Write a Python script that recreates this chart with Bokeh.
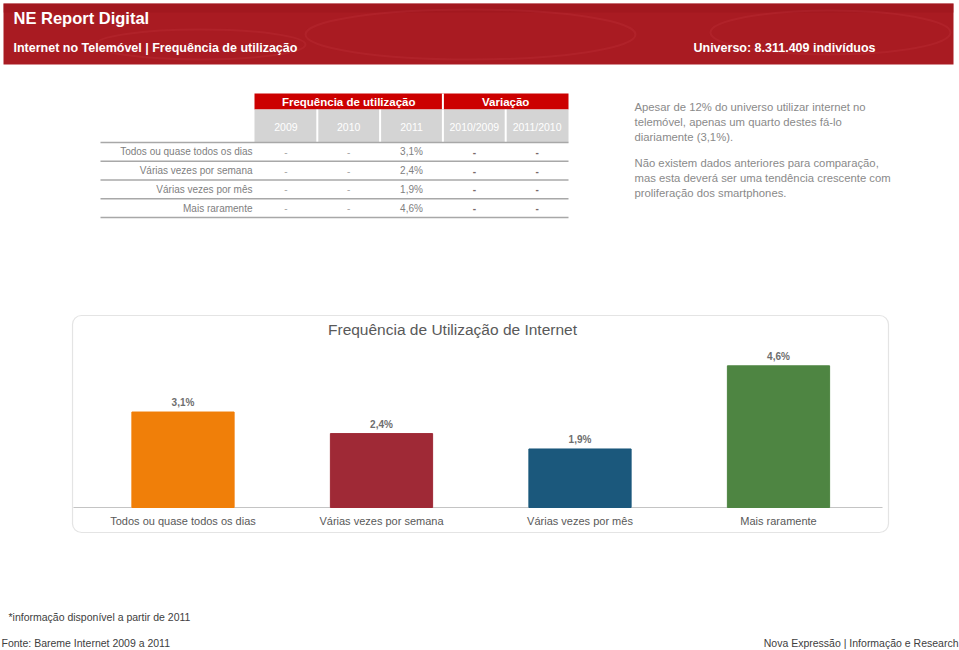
from bokeh.plotting import figure
from bokeh.models import Range1d, BoxAnnotation
from bokeh.core.properties import value
from bokeh.embed import file_html
from bokeh.resources import INLINE

# ---------------- data ----------------
categories = ["Todos ou quase todos os dias", "Várias vezes por semana",
              "Várias vezes por mês", "Mais raramente"]
values_2011 = [3.1, 2.4, 1.9, 4.6]
values_2009 = ["-", "-", "-", "-"]
values_2010 = ["-", "-", "-", "-"]
var_2010_2009 = ["-", "-", "-", "-"]
var_2011_2010 = ["-", "-", "-", "-"]
year_labels = ["2009", "2010", "2011", "2010/2009", "2011/2010"]
group_labels = ["Frequência de utilização", "Variação"]
group_spans = [3, 2]
bar_colors = ["#F07F09", "#9F2936", "#1B587C", "#4E8542"]

title_main = "NE Report Digital"
subtitle = "Internet no Telemóvel | Frequência de utilização"
universe = "Universo: 8.311.409 indivíduos"
chart_title = "Frequência de Utilização de Internet"
paragraph_1 = ["Apesar de 12% do universo utilizar internet no",
               "telemóvel, apenas um quarto destes fá-lo",
               "diariamente (3,1%)."]
paragraph_2 = ["Não existem dados anteriores para comparação,",
               "mas esta deverá ser uma tendência crescente com",
               "proliferação dos smartphones."]
note = "*informação disponível a partir de 2011"
source = "Fonte: Bareme Internet 2009 a 2011"
credit = "Nova Expressão | Informação e Research"


def fmt(v):
    return ("%.1f" % v).replace(".", ",") + "%"


FONT = value("'Liberation Sans', Arial, sans-serif")

# ---------------- canvas (1 unit = 1 px of the page) ----------------
REF_W, REF_H = 959, 650
p = figure(width=REF_W, height=REF_H, x_range=Range1d(0, REF_W), y_range=Range1d(REF_H, 0),
           output_backend="svg", toolbar_location=None, min_border=0,
           x_axis_location=None, y_axis_location=None)
p.grid.visible = False
p.outline_line_color = None
p.background_fill_color = "white"
p.border_fill_color = "white"

# ---------------- header banner ----------------
p.quad(left=[3], right=[953], top=[3], bottom=[64], fill_color="#A91B22", line_color=None)
p.quad(left=[3], right=[953], top=[3], bottom=[12], fill_color="#9C161C", line_color=None, fill_alpha=0.5)
p.ellipse(x=[470, 830, 200], y=[34, 32, 44], width=[330, 240, 210], height=[50, 44, 30],
          fill_alpha=0, line_color="#D0454C", line_alpha=0.18, line_width=2)
p.text(x=[13], y=[17], text=[title_main], text_font=FONT, text_font_size="16.5px",
       text_font_style="bold", text_color="white", text_baseline="middle", text_align="left")
p.text(x=[13], y=[47], text=[subtitle], text_font=FONT, text_font_size="12.5px",
       text_font_style="bold", text_color="white", text_baseline="middle", text_align="left")
p.text(x=[875], y=[47], text=[universe], text_font=FONT, text_font_size="12.5px",
       text_font_style="bold", text_color="white", text_baseline="middle", text_align="right")

# ---------------- table ----------------
TX0, COLW = 254, 62.8
H1_TOP, H1_BOT, H2_BOT = 93, 109, 142
ROW_H = 18.75
LINE_X0 = 100
ncols = len(year_labels)
col_left = [TX0 + i * COLW for i in range(ncols)]
col_center = [c + COLW / 2 for c in col_left]
TX1 = TX0 + ncols * COLW

g_right, g_center = [], []
start = 0
for span in group_spans:
    g_right.append(col_left[start] + span * COLW)
    g_center.append(col_left[start] + span * COLW / 2)
    start += span
p.quad(left=[TX0], right=[TX1], top=[H1_TOP], bottom=[H1_BOT], fill_color="#CC0000", line_color=None)
p.segment(x0=g_right[:-1], x1=g_right[:-1], y0=[H1_TOP] * (len(g_right) - 1),
          y1=[H1_BOT] * (len(g_right) - 1), line_color="white", line_width=2)
p.text(x=g_center, y=[(H1_TOP + H1_BOT) / 2 + 0.5] * len(group_labels), text=group_labels,
       text_font=FONT, text_font_size="11.5px", text_font_style="bold", text_color="white",
       text_align="center", text_baseline="middle")

p.quad(left=[TX0], right=[TX1], top=[H1_BOT], bottom=[H2_BOT], fill_color="#D4D4D4", line_color=None)
p.segment(x0=col_left[1:], x1=col_left[1:], y0=[H1_BOT] * (ncols - 1), y1=[H2_BOT] * (ncols - 1),
          line_color="white", line_width=2)
p.text(x=col_center, y=[(H1_BOT + H2_BOT) / 2 + 1] * ncols, text=year_labels,
       text_font=FONT, text_font_size="10.5px", text_color="white",
       text_align="center", text_baseline="middle")

nrows = len(categories)
row_lines = [H2_BOT + i * ROW_H for i in range(nrows + 1)]
p.segment(x0=[LINE_X0] * len(row_lines), x1=[TX1] * len(row_lines), y0=row_lines, y1=row_lines,
          line_color="#A8A8A8", line_width=1.5)
row_center = [H2_BOT + (i + 0.5) * ROW_H for i in range(nrows)]
p.text(x=[TX0 - 2] * nrows, y=row_center, text=categories, text_font=FONT,
       text_font_size="10px", text_color="#808080", text_align="right", text_baseline="middle")
cols_text = [values_2009, values_2010, [fmt(v) for v in values_2011], var_2010_2009, var_2011_2010]
cols_color = ["#A6A6A6", "#A6A6A6", "#808080", "#7A6A6A", "#7A6A6A"]
for ci, (vals, colr) in enumerate(zip(cols_text, cols_color)):
    p.text(x=[col_center[ci]] * nrows, y=row_center, text=vals, text_font=FONT,
           text_font_size="10px", text_color=colr, text_align="center", text_baseline="middle",
           text_font_style="bold" if ci >= 3 else "normal")

# ---------------- paragraphs ----------------
LINE_STEP = 15
para_lines = paragraph_1 + paragraph_2
para_y = [106 + i * LINE_STEP for i in range(len(paragraph_1))] + \
         [162 + i * LINE_STEP for i in range(len(paragraph_2))]
p.text(x=[634] * len(para_lines), y=para_y, text=para_lines, text_font=FONT,
       text_font_size="11.3px", text_color="#8A8A8A", text_align="left", text_baseline="middle")

# ---------------- bar chart ----------------
BOX_L, BOX_R, BOX_T, BOX_B = 72, 888, 315, 532
p.add_layout(BoxAnnotation(left=BOX_L, right=BOX_R, top=BOX_T, bottom=BOX_B, fill_alpha=0,
                           fill_color=None, line_color="#A6A6A6", line_width=1.2, border_radius=9))
p.text(x=[452], y=[329], text=[chart_title], text_font=FONT, text_font_size="15.5px",
       text_color="#595959", text_align="center", text_baseline="middle")

# value axis: baseline at y=507 px, 30.8 px per percentage point
BASE_Y, PX_PER_UNIT = 507, 30.8
# category axis: slot width 198.5 px, centred on x=480 px
CAT_STEP, CAT_MID = 198.5, 480.25
ncat = len(categories)
cat_start = ncat / 2 - CAT_MID / CAT_STEP
p.extra_y_ranges = {"val": Range1d(start=(BASE_Y - REF_H) / PX_PER_UNIT, end=BASE_Y / PX_PER_UNIT)}
p.extra_x_ranges = {"cat": Range1d(start=cat_start, end=cat_start + REF_W / CAT_STEP)}
cat_pos = [i + 0.5 for i, _ in enumerate(categories)]

p.segment(x0=[73], x1=[882], y0=[0], y1=[0], y_range_name="val", line_color="#C4C4C4", line_width=1.2)
p.vbar(x=cat_pos, top=values_2011, bottom=0, width=0.515, color=bar_colors,
       x_range_name="cat", y_range_name="val")
p.text(x=cat_pos, y=values_2011, text=[fmt(v) for v in values_2011], x_range_name="cat",
       y_range_name="val", text_font=FONT, text_font_size="10px", text_font_style="bold",
       text_color="#6E6E6E", text_align="center", text_baseline="bottom", y_offset=-4)
p.text(x=cat_pos, y=[0] * ncat, text=categories, x_range_name="cat",
       y_range_name="val", text_font=FONT, text_font_size="11px", text_color="#595959",
       text_align="center", text_baseline="top", y_offset=7)

# ---------------- footer ----------------
p.text(x=[8], y=[616], text=[note], text_font=FONT, text_font_size="10.5px",
       text_color="#404040", text_align="left", text_baseline="middle")
p.text(x=[1], y=[642], text=[source], text_font=FONT, text_font_size="10.5px",
       text_color="#404040", text_align="left", text_baseline="middle")
p.text(x=[958], y=[642], text=[credit], text_font=FONT, text_font_size="10.5px",
       text_color="#404040", text_align="right", text_baseline="middle")

open("out.html", "w").write(file_html(p, INLINE))
